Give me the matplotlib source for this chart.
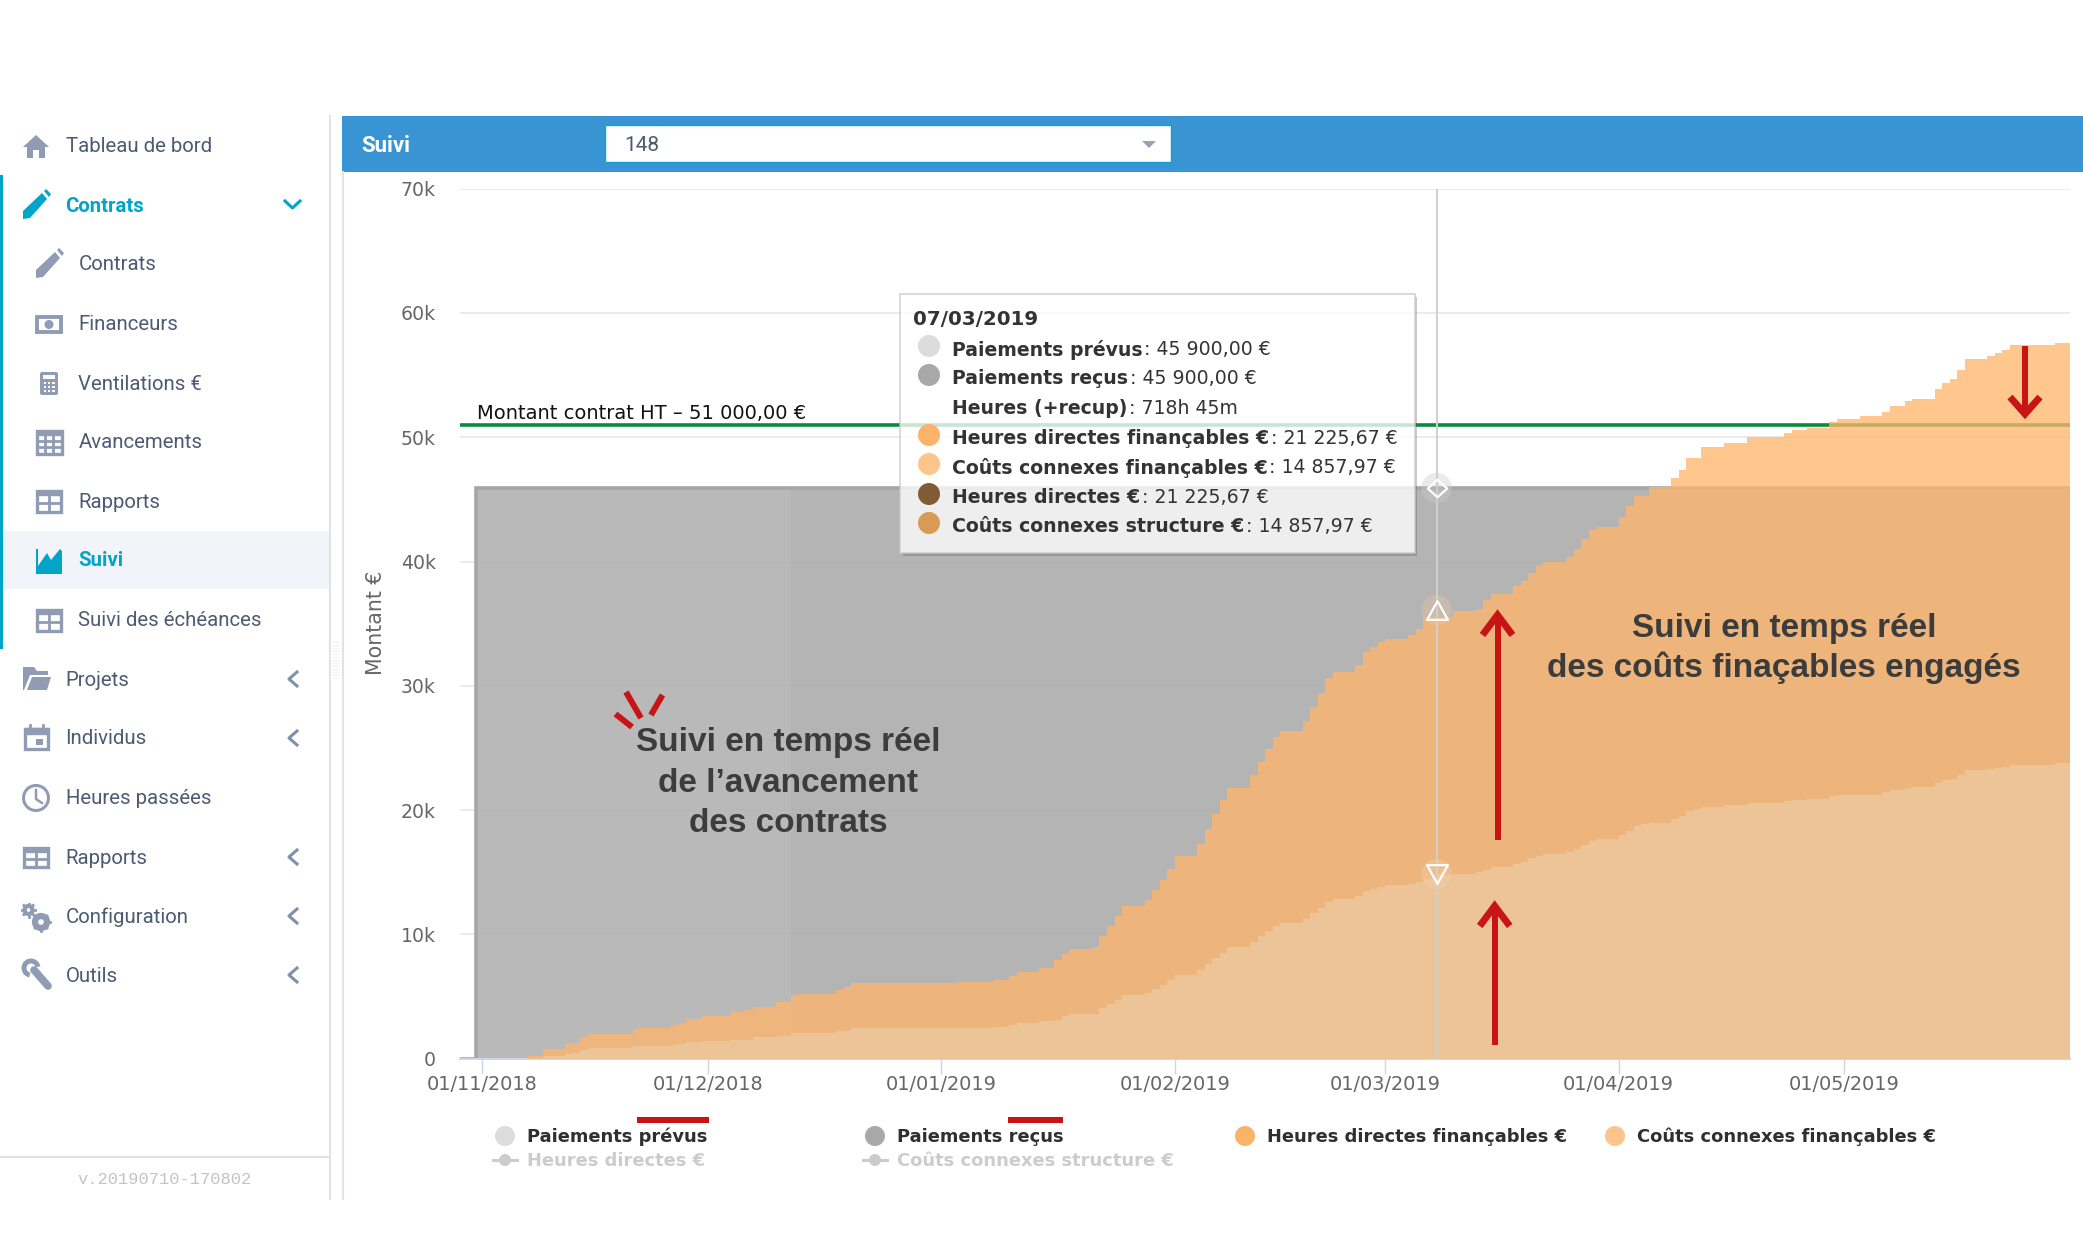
import matplotlib
matplotlib.use("Agg")
import matplotlib.pyplot as plt
import numpy as np
from matplotlib.patches import Rectangle, Circle, Polygon, FancyBboxPatch, Wedge
from matplotlib.path import Path

# ---------- data (k€, days counted from 01/11/2018) ----------
total_days = [-3, 6, 8, 11, 12, 13, 14, 20, 21, 25, 26, 27, 29, 33, 35, 36, 39, 41, 42, 47, 48, 49, 63, 68, 70, 71, 74, 76, 77, 78, 81, 82, 83, 84, 85, 88, 89, 90, 91, 92, 95, 96, 97, 98, 99, 102, 103, 104, 105, 106, 109, 110, 111, 112, 113, 116, 117, 118, 119, 120, 123, 124, 125, 129, 132, 133, 134, 137, 138, 139, 140, 141, 144, 145, 146, 147, 148, 151, 152, 153, 155, 158, 159, 160, 162, 165, 168, 173, 174, 176, 179, 180, 183, 186, 187, 189, 190, 193, 194, 195, 196, 197, 200, 201, 202, 203, 207, 209, 211]
total_k = [0, 0.24, 0.75, 1.15, 1.29, 1.74, 1.96, 2.36, 2.49, 2.63, 2.87, 3.22, 3.41, 3.73, 3.92, 4.18, 4.53, 5.09, 5.23, 5.52, 5.79, 6.05, 6.14, 6.30, 6.65, 6.97, 7.27, 7.91, 8.42, 8.79, 9.01, 9.89, 10.7, 11.45, 12.3, 12.8, 13.6, 14.4, 15.3, 16.3, 17.3, 18.5, 19.7, 20.8, 21.8, 22.8, 23.9, 24.9, 25.9, 26.4, 27.2, 28.3, 29.4, 30.6, 31.1, 31.7, 32.7, 33.1, 33.5, 33.8, 34.1, 34.6, 35.5, 36.0, 36.2, 36.9, 37.4, 38.0, 38.4, 39.1, 39.6, 40.0, 40.4, 41.0, 41.8, 42.5, 42.8, 43.6, 44.5, 45.3, 46.0, 46.7, 47.4, 48.3, 49.2, 49.5, 50.0, 50.3, 50.56, 50.75, 51.2, 51.5, 51.7, 52.0, 52.5, 52.9, 53.1, 53.9, 54.4, 54.7, 55.4, 56.3, 56.5, 56.8, 57.0, 57.4, 57.45, 57.55, 57.55]
connexes_days = [-3, 6, 8, 11, 12, 13, 14, 20, 25, 26, 27, 29, 33, 36, 39, 41, 47, 49, 68, 70, 71, 74, 76, 77, 78, 82, 83, 84, 85, 88, 89, 90, 91, 92, 95, 96, 97, 98, 99, 102, 103, 104, 105, 106, 109, 110, 111, 112, 113, 116, 117, 118, 119, 120, 123, 124, 125, 127, 129, 132, 133, 134, 137, 138, 139, 140, 141, 144, 145, 146, 147, 148, 151, 152, 153, 154, 155, 158, 159, 160, 161, 162, 165, 168, 173, 174, 176, 179, 180, 186, 187, 189, 190, 193, 194, 195, 196, 197, 200, 201, 202, 203, 209, 211]
connexes_k = [0, 0.08, 0.24, 0.35, 0.48, 0.72, 0.83, 1.0, 1.1, 1.2, 1.34, 1.4, 1.53, 1.72, 1.82, 2.09, 2.23, 2.49, 2.55, 2.7, 2.9, 3.0, 3.1, 3.4, 3.62, 4.08, 4.37, 4.69, 5.09, 5.3, 5.58, 5.93, 6.3, 6.7, 7.1, 7.65, 8.1, 8.5, 9.0, 9.41, 9.87, 10.24, 10.7, 10.9, 11.2, 11.7, 12.1, 12.6, 12.84, 13.08, 13.5, 13.67, 13.83, 13.94, 14.08, 14.24, 14.48, 14.77, 14.85, 15.0, 15.2, 15.39, 15.63, 15.84, 16.11, 16.3, 16.46, 16.6, 16.86, 17.18, 17.5, 17.64, 17.96, 18.34, 18.69, 18.87, 18.98, 19.28, 19.52, 19.92, 20.08, 20.24, 20.38, 20.56, 20.72, 20.8, 20.88, 21.1, 21.23, 21.45, 21.6, 21.77, 21.88, 22.2, 22.4, 22.5, 22.8, 23.2, 23.3, 23.4, 23.5, 23.65, 23.75, 23.75]
payment_days = [-3, -0.9, 211]
payment_k = [0, 45.9, 45.9]
prevus_end_day = 41
contract_k = 51
cursor_day = 126.8
cursor_values = [45.9, 36.08, 14.86]
x_tick_days = [0, 30, 61, 92, 120, 151, 181]
x_tick_labels = ["01/11/2018", "01/12/2018", "01/01/2019", "01/02/2019", "01/03/2019", "01/04/2019", "01/05/2019"]
y_ticks = [0, 10, 20, 30, 40, 50, 60, 70]
y_tick_labels = ["0", "10k", "20k", "30k", "40k", "50k", "60k", "70k"]

tooltip_rows = [
    ("Paiements prévus", ": 45 900,00 €", "#dcdcdc"),
    ("Paiements reçus", ": 45 900,00 €", "#a8a8a8"),
    ("Heures (+recup)", ": 718h 45m", "#ffffff"),
    ("Heures directes finançables €", ": 21 225,67 €", "#fbb36a"),
    ("Coûts connexes finançables €", ": 14 857,97 €", "#fdc48b"),
    ("Heures directes €", ": 21 225,67 €", "#805b35"),
    ("Coûts connexes structure €", ": 14 857,97 €", "#d99a58"),
]
menu_main = [("Tableau de bord", 147, None), ("Contrats", 206, "down"), ("Projets", 680, "left"), ("Individus", 739, "left"),
             ("Heures passées", 799, None), ("Rapports", 858, "left"), ("Configuration", 917, "left"), ("Outils", 976, "left")]
menu_sub = [("Contrats", 265), ("Financeurs", 324.5), ("Ventilations €", 384), ("Avancements", 443),
            ("Rapports", 502), ("Suivi", 561), ("Suivi des échéances", 621)]

# ---------- figure and pixel layers ----------
W, H = 2083, 1250
fig = plt.figure(figsize=(W / 100, H / 100), dpi=100, facecolor="white")

def pixel_axes(z):
    a = fig.add_axes([0, 0, 1, 1], zorder=z)
    a.set_xlim(0, W); a.set_ylim(H, 0); a.axis("off"); a.patch.set_alpha(0)
    return a

ui = pixel_axes(0)
ov = pixel_axes(5)
TXT = "#4c5a73"; ICON = "#8f9cb4"; TEAL = "#00a5c8"; RED = "#c81414"
SANS = "DejaVu Sans"

# ---------- page chrome ----------
ui.add_patch(Rectangle((342, 116), W - 342, 56, fc="#3894d2", ec="none"))
ui.add_patch(Rectangle((604.5, 125), 566.5, 37, fc="white", ec="#0aa5c8", lw=1))
ui.add_patch(Polygon([[1142, 141], [1156, 141], [1149, 148]], fc="#9aa3b5", ec="none"))
ui.text(361, 145.5, "Suivi", color="white", fontsize=16, fontweight="bold", family="Roboto", va="center")
ui.text(624, 145.5, "148", color="#4c5a73", fontsize=15, family="Roboto", va="center")
ui.plot([329.5, 329.5], [116, 1199], color="#e3e3e3", lw=1.5)
ui.plot([342.5, 342.5], [172, 1199], color="#e3e3e3", lw=1.5)
ui.plot([0, 329], [1157, 1157], color="#e3e3e3", lw=1.5)
ui.add_patch(Rectangle((0, 175), 3, 474, fc=TEAL, ec="none"))
ui.add_patch(Rectangle((3, 531), 326, 58, fc="#f2f4f9", ec="none"))
for yy in np.arange(642, 680, 3):
    ui.plot([333, 338], [yy, yy], color="#dfe7f3", lw=0.8, ls=(0, (1, 1)))
ui.text(165, 1180, "v.20190710-170802", color="#c4c4c4", fontsize=12.3, family="Liberation Mono", ha="center", va="center")

for label, y, chev in menu_main:
    c = TEAL if label == "Contrats" else TXT
    ui.text(65.5, y, label, color=c, fontsize=14.7, family="Roboto", va="center", fontweight="bold" if label == "Contrats" else "normal")
    if chev == "left":
        ui.plot([297, 289, 297], [y - 8, y - 1, y + 6], color="#7f90ab", lw=2.2)
    if chev == "down":
        ui.plot([285, 292.5, 300], [y - 5, y + 2, y - 5], color=TEAL, lw=2.2)
for label, y in menu_sub:
    c = TEAL if label == "Suivi" else TXT
    ui.text(78.5, y, label, color=c, fontsize=14.7, family="Roboto", va="center", fontweight="bold" if label == "Suivi" else "normal")

def pencil(cx, cy, col):
    ui.add_patch(Polygon([[cx - 13, cy + 14], [cx - 13, cy + 6], [cx + 6, cy - 12], [cx + 11, cy - 6], [cx - 6, cy + 13]], fc=col, ec="none"))
    ui.add_patch(Polygon([[cx + 8, cy - 14], [cx + 10, cy - 16], [cx + 15, cy - 11], [cx + 13, cy - 8]], fc=col, ec="none"))

def table(cx, cy, col, nx=2, ny=2, w=24, h=21):
    ui.add_patch(Rectangle((cx - w / 2, cy - h / 2), w, h, fc="white", ec=col, lw=2.4))
    ui.add_patch(Rectangle((cx - w / 2, cy - h / 2), w, 4, fc=col, ec=col, lw=1))
    for i in range(1, nx):
        xx = cx - w / 2 + w * i / nx
        ui.plot([xx, xx], [cy - h / 2, cy + h / 2], color=col, lw=2)
    for j in range(1, ny):
        yy = cy - h / 2 + 4 + (h - 4) * j / ny
        ui.plot([cx - w / 2, cx + w / 2], [yy, yy], color=col, lw=2)

# house
ui.add_patch(Polygon([[23, 147], [36, 135], [49, 147], [45, 147], [45, 158], [39, 158], [39, 150], [33, 150], [33, 158], [27, 158], [27, 147]], fc=ICON, ec="none"))
pencil(36, 205, TEAL)
pencil(49, 264, ICON)
# banknote
ui.add_patch(Rectangle((37, 317), 24, 15, fc="white", ec=ICON, lw=2.8))
ui.add_patch(Circle((49, 324.5), 4.5, fc=ICON, ec="none"))
# calculator
ui.add_patch(FancyBboxPatch((41, 373), 16, 21, boxstyle="round,pad=1,rounding_size=2", fc=ICON, ec="none"))
ui.add_patch(Rectangle((43, 375), 12, 4, fc="white", ec="none"))
for i in range(3):
    for j in range(3):
        ui.add_patch(Rectangle((43.5 + 4.3 * i, 382 + 4 * j), 2.4, 2.4, fc="white", ec="none"))
table(49, 442, ICON, 3, 3, 25, 23)
table(49, 501, ICON)
# chart icon
ui.add_patch(Polygon([[36, 574], [36, 549], [38, 549], [38, 566], [47, 553], [51, 560], [60, 549], [62, 551], [62, 574]], fc=TEAL, ec="none"))
table(49, 620, ICON)
# folder
ui.add_patch(Polygon([[23, 690], [23, 667], [34, 667], [37, 671], [48, 671], [48, 675], [30, 675], [24, 690]], fc=ICON, ec="none"))
ui.add_patch(Polygon([[27, 690], [32, 677], [51, 677], [47, 690]], fc=ICON, ec="none"))
# calendar
ui.add_patch(Rectangle((25, 729), 23, 20, fc="white", ec=ICON, lw=2.4))
ui.add_patch(Rectangle((25, 728), 23, 6, fc=ICON, ec=ICON, lw=1))
ui.plot([30, 30], [725, 730], color=ICON, lw=2); ui.plot([43, 43], [725, 730], color=ICON, lw=2)
ui.add_patch(Rectangle((36, 739), 7, 6, fc=ICON, ec="none"))
# clock
ui.add_patch(Circle((36, 798), 12.5, fc="white", ec=ICON, lw=2.2))
ui.plot([36, 36, 42], [790, 799, 803], color=ICON, lw=1.8)
table(36, 857, ICON, 2, 2, 24, 19)
# gears
for cx, cy, r in [(28.5, 910, 4), (41, 922, 6)]:
    ui.add_patch(Circle((cx, cy), r, fc="white", ec=ICON, lw=r * 0.75))
    for ang in np.arange(0, 360, 45):
        a = np.deg2rad(ang)
        ui.plot([cx + r * np.cos(a), cx + (r + 2.5) * np.cos(a)], [cy + r * np.sin(a), cy + (r + 2.5) * np.sin(a)], color=ICON, lw=2)
# wrench
ui.plot([34, 48], [970, 986], color=ICON, lw=5.5, solid_capstyle="round")
ui.add_patch(Wedge((31, 968), 9.5, 100, 350, width=5, fc=ICON, ec="none"))

# ---------- chart ----------
px_l, px_r, px_t, px_b = 460, 2070, 188.6, 1058.7
ax = fig.add_axes([px_l / W, 1 - px_b / H, (px_r - px_l) / W, (px_b - px_t) / H], zorder=2)
ax.patch.set_alpha(0)
ax.set_xlim(-2.98, 210.97)
ax.set_ylim(0, 70)
for s in ["top", "right", "left"]:
    ax.spines[s].set_visible(False)
ax.spines["bottom"].set_color("#ccd6eb"); ax.spines["bottom"].set_linewidth(1.4)
ax.set_yticks(y_ticks, y_tick_labels)
ax.set_xticks(x_tick_days, x_tick_labels)
ax.tick_params(axis="y", length=0, pad=17.5, labelsize=13.6, labelcolor="#666666")
ax.tick_params(axis="x", length=10.5, width=1, color="#ccd6eb", pad=1.5, labelsize=13.9, labelcolor="#666666")
for v in y_ticks[1:]:
    ax.axhline(v, color="#e6e6e6", lw=1.1, zorder=1)
ax.axhline(contract_k, color="#0a8a3c", lw=2.6, zorder=1.5)
ax.fill_between([payment_days[1], prevus_end_day], payment_k[1], 0, color="#b0b0b0", alpha=0.88, lw=0, zorder=2)
ax.fill_between([prevus_end_day, payment_days[2]], payment_k[1], 0, color="#aaaaaa", alpha=0.88, lw=0, zorder=2)
ax.step(payment_days, payment_k, where="post", color="#a6a6a6", lw=2.6, zorder=2.5, solid_joinstyle="miter")
ax.fill_between(total_days, total_k, 0, step="post", color="#ffb66b", alpha=0.77, lw=0, zorder=3)
ax.fill_between(connexes_days, connexes_k, 0, step="post", color="#edc497", lw=0, zorder=3.5)
ax.plot([cursor_day, cursor_day], [0, 70], color="#cfcfcf", lw=1.4, zorder=4)
ax.scatter([cursor_day] * 3, cursor_values, s=[480, 480, 480], c=["#cccccc", "#e8c8a4", "#f6d0a8"], alpha=0.4, lw=0, zorder=4.2)
tri_up = Path([(-1, -0.9), (1, -0.9), (0, 0.9), (-1, -0.9)], closed=True)
tri_dn = Path([(-1, 0.9), (1, 0.9), (0, -0.9), (-1, 0.9)], closed=True)
dia = Path([(0, -0.9), (1, 0), (0, 0.9), (-1, 0), (0, -0.9)], closed=True)
for v, m, s in zip(cursor_values, [dia, tri_up, tri_dn], [14, 15, 15]):
    ax.plot(cursor_day, v, marker=m, ms=s, mfc="none", mec="white", mew=1.6, ls="none", zorder=4.5)

ui.text(376, 623, "Montant €", rotation=90, color="#666666", fontsize=14.8, family=SANS, ha="center", va="center")
ov.text(477, 413.5, "Montant contrat HT – 51 000,00 €", color="#111111", fontsize=14, family=SANS, va="center")

# ---------- legend ----------
def bold_label(a, x, y, t, col, fs):
    a.text(x, y, t, color=col, fontsize=fs, fontweight="bold", family=SANS, va="center")

LEG = 12.9
for mx, tx, t, c in [(505, 527, "Paiements prévus", "#dcdcdc"), (875, 897, "Paiements reçus", "#a8a8a8"),
                     (1245, 1267, "Heures directes finançables €", "#fbb36a"), (1615, 1637, "Coûts connexes finançables €", "#fdc48b")]:
    ov.add_patch(Circle((mx, 1136), 10, fc=c, ec="none"))
    bold_label(ov, tx, 1136.5, t, "#2f2f2f", LEG)
for mx, tx, t in [(505, 527, "Heures directes €"), (875, 897, "Coûts connexes structure €")]:
    ov.plot([mx - 12, mx + 12], [1160, 1160], color="#cccccc", lw=2.2)
    ov.add_patch(Circle((mx, 1160), 6, fc="#cccccc", ec="none"))
    bold_label(ov, tx, 1161, t, "#cccccc", LEG)
ov.add_patch(Rectangle((637, 1117), 71.5, 6, fc=RED, ec="none"))
ov.add_patch(Rectangle((1008, 1117), 55, 6, fc=RED, ec="none"))

# ---------- tooltip ----------
ov.add_patch(Rectangle((1414.5, 297), 2.5, 259, fc="#555555", ec="none", alpha=0.3))
ov.add_patch(Rectangle((903, 553), 511.5, 3, fc="#555555", ec="none", alpha=0.3))
ov.add_patch(Rectangle((900, 294), 514.5, 259, fc="white", ec="#c9c9c9", lw=1.2, alpha=0.78))
TF = 13.6
ov.text(913, 319.5, "07/03/2019", color="#333333", fontsize=TF + 0.6, fontweight="bold", family=SANS, va="center")
rend = fig.canvas.get_renderer()
row_y = [349.5, 379, 408.5, 438, 467.5, 497.5, 527]
dot_y = [346, 375, 405, 435, 464, 494, 523]
for (name, val, col), y, dy in zip(tooltip_rows, row_y, dot_y):
    ov.add_patch(Circle((929, dy), 11, fc=col, ec="none"))
    t = ov.text(952.5, y, name, color="#333333", fontsize=TF, fontweight="bold", family=SANS, va="center")
    ext = t.get_window_extent(rend)
    ov.text(ext.x1 + 1, y, val, color="#333333", fontsize=TF, family=SANS, va="center")

# ---------- annotations ----------
NOTE = dict(color="#3c3c3c", fontsize=24, fontweight="bold", family="Liberation Sans", ha="center", va="center")
for y, t in [(743, "Suivi en temps réel"), (783, "de l’avancement"), (823, "des contrats")]:
    ov.text(788.5, y, t, **NOTE)
for y, t in [(628, "Suivi en temps réel"), (668, "des coûts finaçables engagés")]:
    ov.text(1784, y, t, **NOTE)
for a, b in [((626, 692), (641, 718)), ((662.5, 695), (651, 715)), ((615.5, 714), (632, 727))]:
    ov.plot([a[0], b[0]], [a[1], b[1]], color=RED, lw=4.3, solid_capstyle="butt")

def arrow(x, y0, y1, wing):
    sgn = 1 if y1 < y0 else -1
    ov.plot([x, x], [y0, y1 + sgn * 6], color=RED, lw=4.3, solid_capstyle="butt")
    ov.plot([x - 15, x, x + 15], [y1 + sgn * wing, y1 + sgn * 7, y1 + sgn * wing], color=RED, lw=5, solid_joinstyle="miter", solid_capstyle="butt")

arrow(1497.5, 840, 608, 27)
arrow(1494.7, 1045, 899, 27)
arrow(2025, 346, 421, 24)

fig.savefig("out.png", dpi=100)
